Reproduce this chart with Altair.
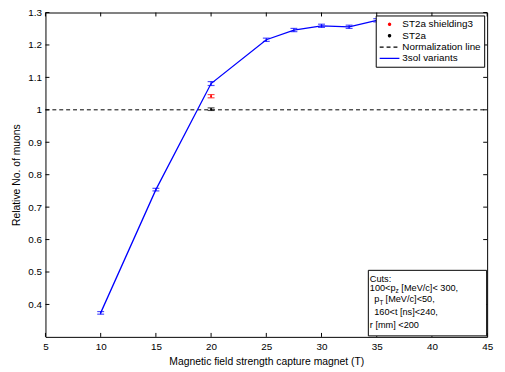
import altair as alt
import pandas as pd

# ---- data ----
b_field = [10, 15, 20, 25, 27.5, 30, 32.5, 35]
rel_muons = [0.374, 0.754, 1.081, 1.216, 1.246, 1.259, 1.256, 1.276]
rel_err = [0.004, 0.004, 0.006, 0.005, 0.005, 0.005, 0.005, 0.005]

st2a_x = [20]
st2a_y = [1.002]
st2a_err = [0.004]

shield_x = [20]
shield_y = [1.042]
shield_err = [0.005]

norm_x = [5, 45]
norm_y = [1.0, 1.0]

x_ticks = [5, 10, 15, 20, 25, 30, 35, 40, 45]
y_ticks = [0.4, 0.5, 0.6, 0.7, 0.8, 0.9, 1.0, 1.1, 1.2, 1.3]

series_names = ["ST2a shielding3", "ST2a", "Normalization line", "3sol variants"]
series_colors = ["#ff0000", "#000000", "#000000", "#0000ff"]
DOT = "M-0.22,0A0.22,0.22 0 1,0 0.22,0A0.22,0.22 0 1,0 -0.22,0Z"
LINE = "M-2,0H2"
series_shapes = [DOT, DOT, LINE, LINE]
series_dash = [[1, 0], [1, 0], [4, 3], [1, 0]]

W, H = 448, 329
FONT = "Liberation Sans"

def frame(xs, ys, es, name):
    return pd.DataFrame({"B": xs, "R": ys, "lo": [y - e for y, e in zip(ys, es)],
                         "hi": [y + e for y, e in zip(ys, es)], "series": name})

blue = frame(b_field, rel_muons, rel_err, "3sol variants")
black = frame(st2a_x, st2a_y, st2a_err, "ST2a")
red = frame(shield_x, shield_y, shield_err, "ST2a shielding3")
norm = pd.DataFrame({"B": norm_x, "R": norm_y, "series": "Normalization line"})
pts = pd.concat([red, black], ignore_index=True)
bars = pd.concat([blue, red, black], ignore_index=True)
keys = pd.DataFrame({"series": series_names, "B": [20] * 4, "R": [1.0] * 4})

xs = alt.Scale(domain=[5, 45], nice=False, zero=False)
ys = alt.Scale(domain=[0.3, 1.3], nice=False, zero=False)
cs = alt.Scale(domain=series_names, range=series_colors)

legend = alt.Legend(
    title=None, orient="top-right", offset=3, padding=3,
    strokeColor="black", fillColor="white",
    labelFont=FONT, labelFontSize=10, labelLimit=200, labelOffset=7,
    rowPadding=0.5, symbolStrokeWidth=1.3, symbolOpacity=1,
    symbolSize=100, symbolOffset=5,
)

xaxis = alt.Axis(
    values=x_ticks, title="Magnetic field strength capture magnet (T)", grid=False,
    domain=False, ticks=False, labelPadding=5, titlePadding=5, labelFlush=False,
    labelOverlap=False)
yaxis = alt.Axis(
    values=y_ticks, title="Relative No. of muons", grid=False, domain=False,
    ticks=False, labelPadding=4, titlePadding=6, labelFlush=False, labelOverlap=False,
    labelExpr="datum.value == 1 ? '1' : format(datum.value, '.1f')")
xenc = alt.X("B:Q", scale=xs, axis=xaxis)
yenc = alt.Y("R:Q", scale=ys, axis=yaxis)
color_l = alt.Color("series:N", scale=cs, legend=legend)
color = alt.Color("series:N", scale=cs, legend=None)

# legend key layer (no visible marks), first so it owns the legend
key_layer = alt.Chart(keys).mark_point(filled=False, strokeWidth=1.3).encode(
    x=xenc, y=yenc, color=color_l,
    shape=alt.Shape("series:N", scale=alt.Scale(domain=series_names, range=series_shapes), legend=legend),
    strokeDash=alt.StrokeDash("series:N", scale=alt.Scale(domain=series_names, range=series_dash), legend=legend),
).transform_filter("false")

line_norm = alt.Chart(norm).mark_line(strokeDash=[4, 3], strokeWidth=1).encode(
    x=xenc, y=yenc, color=color)
line_blue = alt.Chart(blue).mark_line(strokeWidth=1.3).encode(
    x=xenc, y=yenc, color=color)
err_v = alt.Chart(bars).mark_rule(strokeWidth=1.2).encode(
    x=xenc, y=alt.Y("lo:Q", scale=ys, axis=yaxis), y2="hi:Q", color=color)
cap_lo = alt.Chart(bars).mark_tick(orient="horizontal", size=7, thickness=1.2).encode(
    x=xenc, y=alt.Y("lo:Q", scale=ys, axis=yaxis), color=color)
cap_hi = alt.Chart(bars).mark_tick(orient="horizontal", size=7, thickness=1.2).encode(
    x=xenc, y=alt.Y("hi:Q", scale=ys, axis=yaxis), color=color)
dots = alt.Chart(pts).mark_circle(size=4, opacity=1).encode(
    x=xenc, y=yenc, color=color)

xt = pd.DataFrame({"t": x_ticks})
yt = pd.DataFrame({"t": y_ticks})
tb = alt.Chart(xt).mark_rule(color="black", strokeWidth=1).encode(
    x=alt.X("t:Q", scale=xs, axis=xaxis), y=alt.value(H), y2=alt.value(H - 4))
tt = alt.Chart(xt).mark_rule(color="black", strokeWidth=1).encode(
    x=alt.X("t:Q", scale=xs, axis=xaxis), y=alt.value(0), y2=alt.value(4))
tl = alt.Chart(yt).mark_rule(color="black", strokeWidth=1).encode(
    y=alt.Y("t:Q", scale=ys, axis=yaxis), x=alt.value(0), x2=alt.value(4))
tr = alt.Chart(yt).mark_rule(color="black", strokeWidth=1).encode(
    y=alt.Y("t:Q", scale=ys, axis=yaxis), x=alt.value(W), x2=alt.value(W - 4))

# Cuts annotation box
box = alt.Chart(pd.DataFrame({"a": [0]})).mark_rect(
    fill="white", stroke="black", strokeWidth=1).encode(
    x=alt.value(327.5), x2=alt.value(447.5), y=alt.value(261.5), y2=alt.value(328))

FS = 9.3
SUB = 6.5

def txt(s, x, y, size=FS):
    return alt.Chart(pd.DataFrame({"s": [s]})).mark_text(
        align="left", baseline="middle", font=FONT, fontSize=size, color="black").encode(
        text="s:N", x=alt.value(x), y=alt.value(y))

x0 = 329
x1 = 333.5
annot = [
    txt("Cuts:", x0, 270),
    txt("100<p", x0, 279), txt("z", x0 + 26, 282.5, SUB), txt("[MeV/c]< 300,", x0 + 32, 279),
    txt("p", x1, 291), txt("T", x1 + 5.3, 294.5, SUB), txt("[MeV/c]<50,", x1 + 11.5, 291),
    txt("160<t [ns]<240,", x1, 304),
    txt("r [mm] <200", x0, 317),
]

chart = alt.layer(
    key_layer, line_norm, line_blue, err_v, cap_lo, cap_hi, dots, tb, tt, tl, tr, box, *annot
).properties(
    width=W, height=H,
    autosize=alt.AutoSizeParams(type="none"),
    padding={"left": 38, "top": 2, "right": 10, "bottom": 30},
).configure(background="white").configure_view(
    stroke="black", strokeWidth=1
).configure_axis(
    labelFont=FONT, titleFont=FONT, labelFontSize=10, titleFontSize=10.5,
    titleFontWeight="normal", labelColor="black", titleColor="black",
    labelOverlap=False
)

chart.save("out.html", embed_options={"renderer": "svg", "actions": False})
